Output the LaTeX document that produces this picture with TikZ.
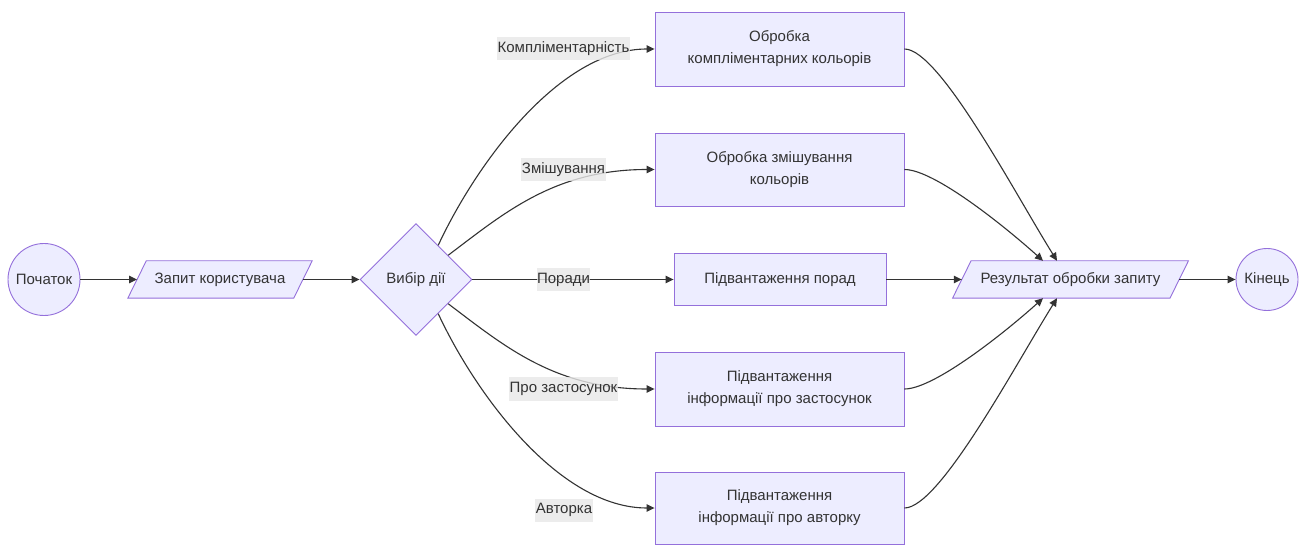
\documentclass[tikz,border=0pt]{standalone}
\usepackage{fontspec}
\setmainfont{Liberation Sans}
\usetikzlibrary{shapes.geometric,arrows.meta,backgrounds}

\begin{document}
\begin{tikzpicture}[x=1pt,y=1pt,
  baseNode/.style={draw=borderColor,fill=fillColor,line width=0.9pt,text=textColor,
    font=\fontsize{15}{22}\selectfont,align=center,inner sep=0pt},
  termNode/.style={baseNode,circle},
  procBox/.style={baseNode,rectangle,minimum width=249pt,minimum height=74pt},
  ioText/.style={text=textColor,font=\fontsize{15}{22}\selectfont,inner sep=0pt,minimum height=37pt},
  ioFrame/.style={draw=borderColor,fill=fillColor,line width=0.9pt},
  choiceNode/.style={baseNode,diamond,minimum width=112pt,minimum height=112pt},
  edgeLabel/.style={fill=labelColor,fill opacity=0.8,text opacity=1,text=textColor,
    font=\fontsize{15}{18}\selectfont,inner xsep=0.5pt,inner ysep=0pt,minimum height=23pt},
  flowLine/.style={draw=lineColor,line width=1.1pt,-{Triangle[length=8pt,width=7.5pt]}}]
\definecolor[named]{fillColor}{rgb}{0.93,0.93,1.00}
\definecolor[named]{borderColor}{rgb}{0.58,0.44,0.86}
\definecolor[named]{textColor}{rgb}{0.20,0.20,0.20}
\definecolor[named]{lineColor}{rgb}{0.20,0.20,0.20}
\definecolor[named]{labelColor}{rgb}{0.91,0.91,0.91}
\path[use as bounding box] (0,0) rectangle (1304,544);

\node[termNode,minimum size=72pt] (start) at (44,264.5) {Початок};
\node[ioText,minimum width=165.5pt] (request) at (220,264.5) {Запит користувача};
\node[choiceNode] (choice) at (416,264.5) {Вибір дії};

\node[procBox] (compl) at (779.5,495) {Обробка\\компліментарних кольорів};
\node[procBox,minimum height=73pt] (mixing) at (779.5,374.5) {Обробка змішування\\кольорів};
\node[procBox,minimum width=212pt,minimum height=52pt] (tips) at (780,264.5) {Підвантаження порад};
\node[procBox] (aboutApp) at (779.5,155) {Підвантаження\\інформації про застосунок};
\node[procBox,minimum height=72pt] (aboutAuthor) at (779.5,36) {Підвантаження\\інформації про авторку};

\node[ioText,minimum width=217pt] (result) at (1070.5,264.5) {Результат обробки запиту};
\node[termNode,minimum size=62pt] (finish) at (1267,264.5) {Кінець};

\begin{scope}[on background layer]
\fill[white] (0,0) rectangle (1304,544);
\draw[ioFrame] ([xshift=-9.25pt]request.south west) -- ([xshift=-9.25pt]request.south east) --
	([xshift=9.25pt]request.north east) -- ([xshift=9.25pt]request.north west) -- cycle;
\draw[ioFrame] ([xshift=-9.25pt]result.south west) -- ([xshift=-9.25pt]result.south east) --
	([xshift=9.25pt]result.north east) -- ([xshift=9.25pt]result.north west) -- cycle;
\end{scope}

\draw[flowLine] (start) -- (request);
\draw[flowLine] (request) -- (choice);

\draw[flowLine] (choice.57) to[out=65,in=180,out distance=90pt,in distance=95pt] (compl.west);
\draw[flowLine] (choice.37) to[out=37,in=180,out distance=70pt,in distance=100pt] (mixing.west);
\draw[flowLine] (choice) -- (tips);
\draw[flowLine] (choice.-37) to[out=-37,in=180,out distance=70pt,in distance=100pt] (aboutApp.west);
\draw[flowLine] (choice.-57) to[out=-65,in=180,out distance=90pt,in distance=95pt] (aboutAuthor.west);

\draw[flowLine] (compl.east) to[out=0,in=122,out distance=35pt,in distance=80pt] ([xshift=-13.5pt]result.north);
\draw[flowLine] (mixing.east) to[out=0,in=138,out distance=30pt,in distance=50pt] ([xshift=-27.5pt]result.north);
\draw[flowLine] (tips) -- (result);
\draw[flowLine] (aboutApp.east) to[out=0,in=-138,out distance=30pt,in distance=50pt] ([xshift=-27.5pt]result.south);
\draw[flowLine] (aboutAuthor.east) to[out=0,in=-122,out distance=35pt,in distance=80pt] ([xshift=-13.5pt]result.south);
\draw[flowLine] (result) -- (finish);

\node[edgeLabel] (lblCompl) at (563.5,495) {Компліментарність};
\node[edgeLabel] (lblMixing) at (563.5,374.5) {Змішування};
\node[edgeLabel] (lblTips) at (563.5,264.5) {Поради};
\node[edgeLabel] (lblApp) at (563.5,155) {Про застосунок};
\node[edgeLabel] (lblAuthor) at (564,34) {Авторка};
\end{tikzpicture}
\end{document}
